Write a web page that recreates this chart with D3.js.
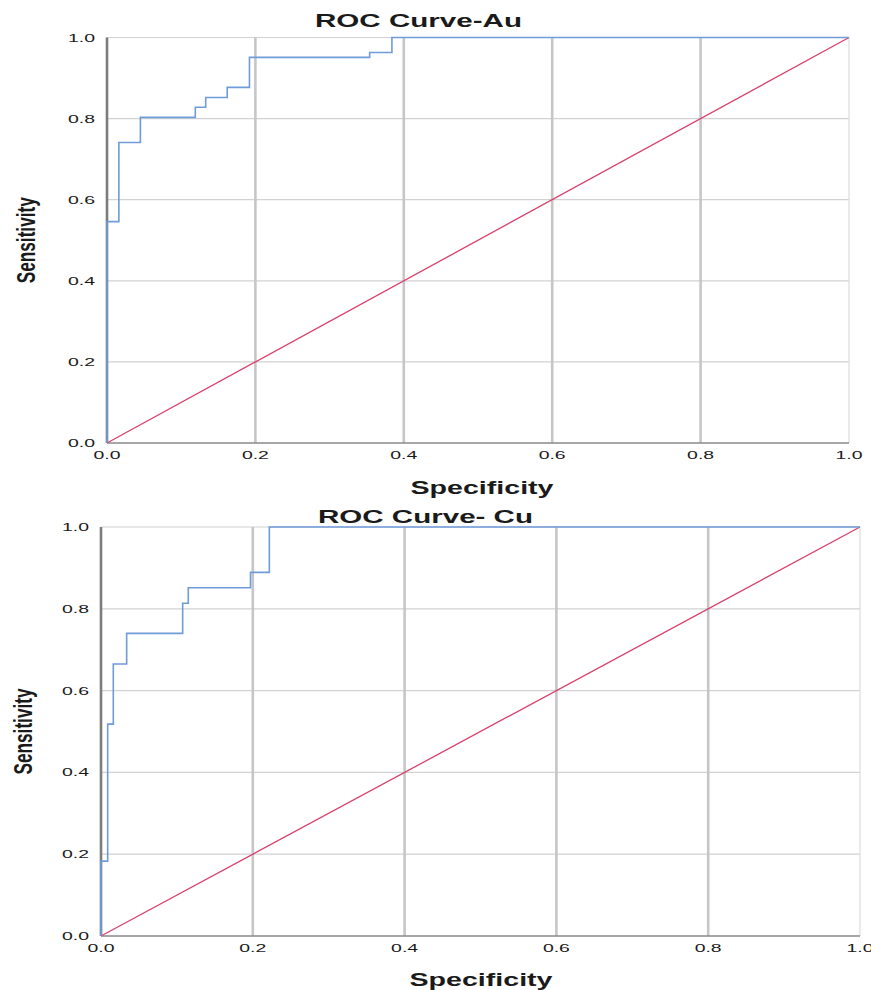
<!DOCTYPE html>
<html>
<head>
<meta charset="utf-8">
<script src="https://cdn.jsdelivr.net/npm/d3@7"></script>
<style>
  html, body { margin: 0; padding: 0; background: #fff; }
  svg { display: block; }
  text { font-family: "Liberation Sans", Arial, sans-serif; fill: #1a1a1a; }
</style>
</head>
<body>
<svg id="chart" width="871" height="990"></svg>
<script>
// ---- Data ----
const tickValues = [0.0, 0.2, 0.4, 0.6, 0.8, 1.0];
const tickLabels = ["0.0", "0.2", "0.4", "0.6", "0.8", "1.0"];

const auTitle = "ROC Curve-Au";
const auX = [0, 0, 0.016, 0.045, 0.119, 0.133, 0.162, 0.192, 0.354, 0.384, 1.0];
const auY = [0, 0.546, 0.741, 0.803, 0.828, 0.852, 0.877, 0.951, 0.963, 1.0, 1.0];

const cuTitle = "ROC Curve- Cu";
const cuX = [0, 0, 0.0088, 0.0162, 0.0338, 0.1076, 0.115, 0.197, 0.2218, 1.0];
const cuY = [0, 0.183, 0.518, 0.665, 0.740, 0.8134, 0.8516, 0.889, 1.0, 1.0];

const refX = [0, 1];
const refY = [0, 1];

const xAxisTitle = "Specificity";
const yAxisTitle = "Sensitivity";

// ---- Drawing ----
const svg = d3.select("#chart");

function drawPanel(p) {
  const g = svg.append("g");
  const x = d3.scaleLinear().domain([0, 1]).range([p.left, p.right]);
  const y = d3.scaleLinear().domain([0, 1]).range([p.bottom, p.top]);

  // horizontal gridlines
  g.selectAll(".hgrid").data(tickValues.slice(1)).enter().append("line")
    .attr("x1", x(0)).attr("x2", x(1))
    .attr("y1", d => y(d)).attr("y2", d => y(d))
    .attr("stroke", "#d2d2d2").attr("stroke-width", 1.2);

  // vertical gridlines
  g.selectAll(".vgrid").data(tickValues.slice(1)).enter().append("line")
    .attr("x1", d => x(d)).attr("x2", d => x(d))
    .attr("y1", y(0)).attr("y2", y(1))
    .attr("stroke", d => d === 1 ? "#dcdcdc" : "#c6c6c6")
    .attr("stroke-width", d => d === 1 ? 1.2 : 2.6);

  // x axis line
  g.append("line").attr("x1", x(0)).attr("x2", x(1))
    .attr("y1", y(0)).attr("y2", y(0))
    .attr("stroke", "#8a8a8a").attr("stroke-width", 1.6);

  // y axis line
  g.append("line").attr("x1", x(0)).attr("x2", x(0))
    .attr("y1", y(0)).attr("y2", y(1))
    .attr("stroke", "#7c7c7c").attr("stroke-width", 2.6);

  // reference diagonal
  const line = d3.line().x(d => x(d[0])).y(d => y(d[1]));
  g.append("path").datum(d3.zip(refX, refY))
    .attr("d", line).attr("fill", "none")
    .attr("stroke", "#d8406a").attr("stroke-width", 1.3);

  // ROC step curve
  const step = d3.line().x(d => x(d[0])).y(d => y(d[1])).curve(d3.curveStepAfter);
  g.append("path").datum(d3.zip(p.xs, p.ys))
    .attr("d", step).attr("fill", "none")
    .attr("stroke", "#6f9bd9").attr("stroke-width", 1.6);

  // x tick labels
  g.selectAll(".xt").data(tickValues).enter().append("text")
    .attr("x", d => x(d)).attr("y", y(0) + 16)
    .attr("text-anchor", "middle")
    .attr("font-size", 11.5)
    .attr("textLength", 27).attr("lengthAdjust", "spacingAndGlyphs")
    .text((d, i) => tickLabels[i]);

  // y tick labels
  g.selectAll(".yt").data(tickValues).enter().append("text")
    .attr("x", x(0) - 12 - 13.5).attr("y", d => y(d) + 4)
    .attr("text-anchor", "middle")
    .attr("font-size", 11.5)
    .attr("textLength", 27).attr("lengthAdjust", "spacingAndGlyphs")
    .text((d, i) => tickLabels[i]);

  // title
  g.append("text")
    .attr("x", p.titleX).attr("y", p.titleY)
    .attr("font-size", 19).attr("font-weight", "bold")
    .attr("textLength", p.titleLen).attr("lengthAdjust", "spacingAndGlyphs")
    .text(p.title);

  // x axis title
  g.append("text")
    .attr("x", p.xTitleX).attr("y", p.xTitleY)
    .attr("text-anchor", "middle")
    .attr("font-size", 19).attr("font-weight", "bold")
    .attr("textLength", 143).attr("lengthAdjust", "spacingAndGlyphs")
    .text(xAxisTitle);

  // y axis title
  g.append("text")
    .attr("transform", `translate(${p.yTitleX},${(y(0) + y(1)) / 2}) rotate(-90) scale(1,1.4)`)
    .attr("text-anchor", "middle")
    .attr("dy", "0.35em")
    .attr("font-size", 18).attr("font-weight", "bold")
    .attr("textLength", 86).attr("lengthAdjust", "spacingAndGlyphs")
    .text(yAxisTitle);
}

drawPanel({
  left: 107, right: 849, top: 37.5, bottom: 443,
  xs: auX, ys: auY, title: auTitle,
  titleX: 315, titleY: 27, titleLen: 207,
  xTitleX: 482, xTitleY: 494, yTitleX: 26
});

drawPanel({
  left: 101, right: 860, top: 527, bottom: 936,
  xs: cuX, ys: cuY, title: cuTitle,
  titleX: 318, titleY: 523, titleLen: 215,
  xTitleX: 481, xTitleY: 986, yTitleX: 23
});
</script>
</body>
</html>
